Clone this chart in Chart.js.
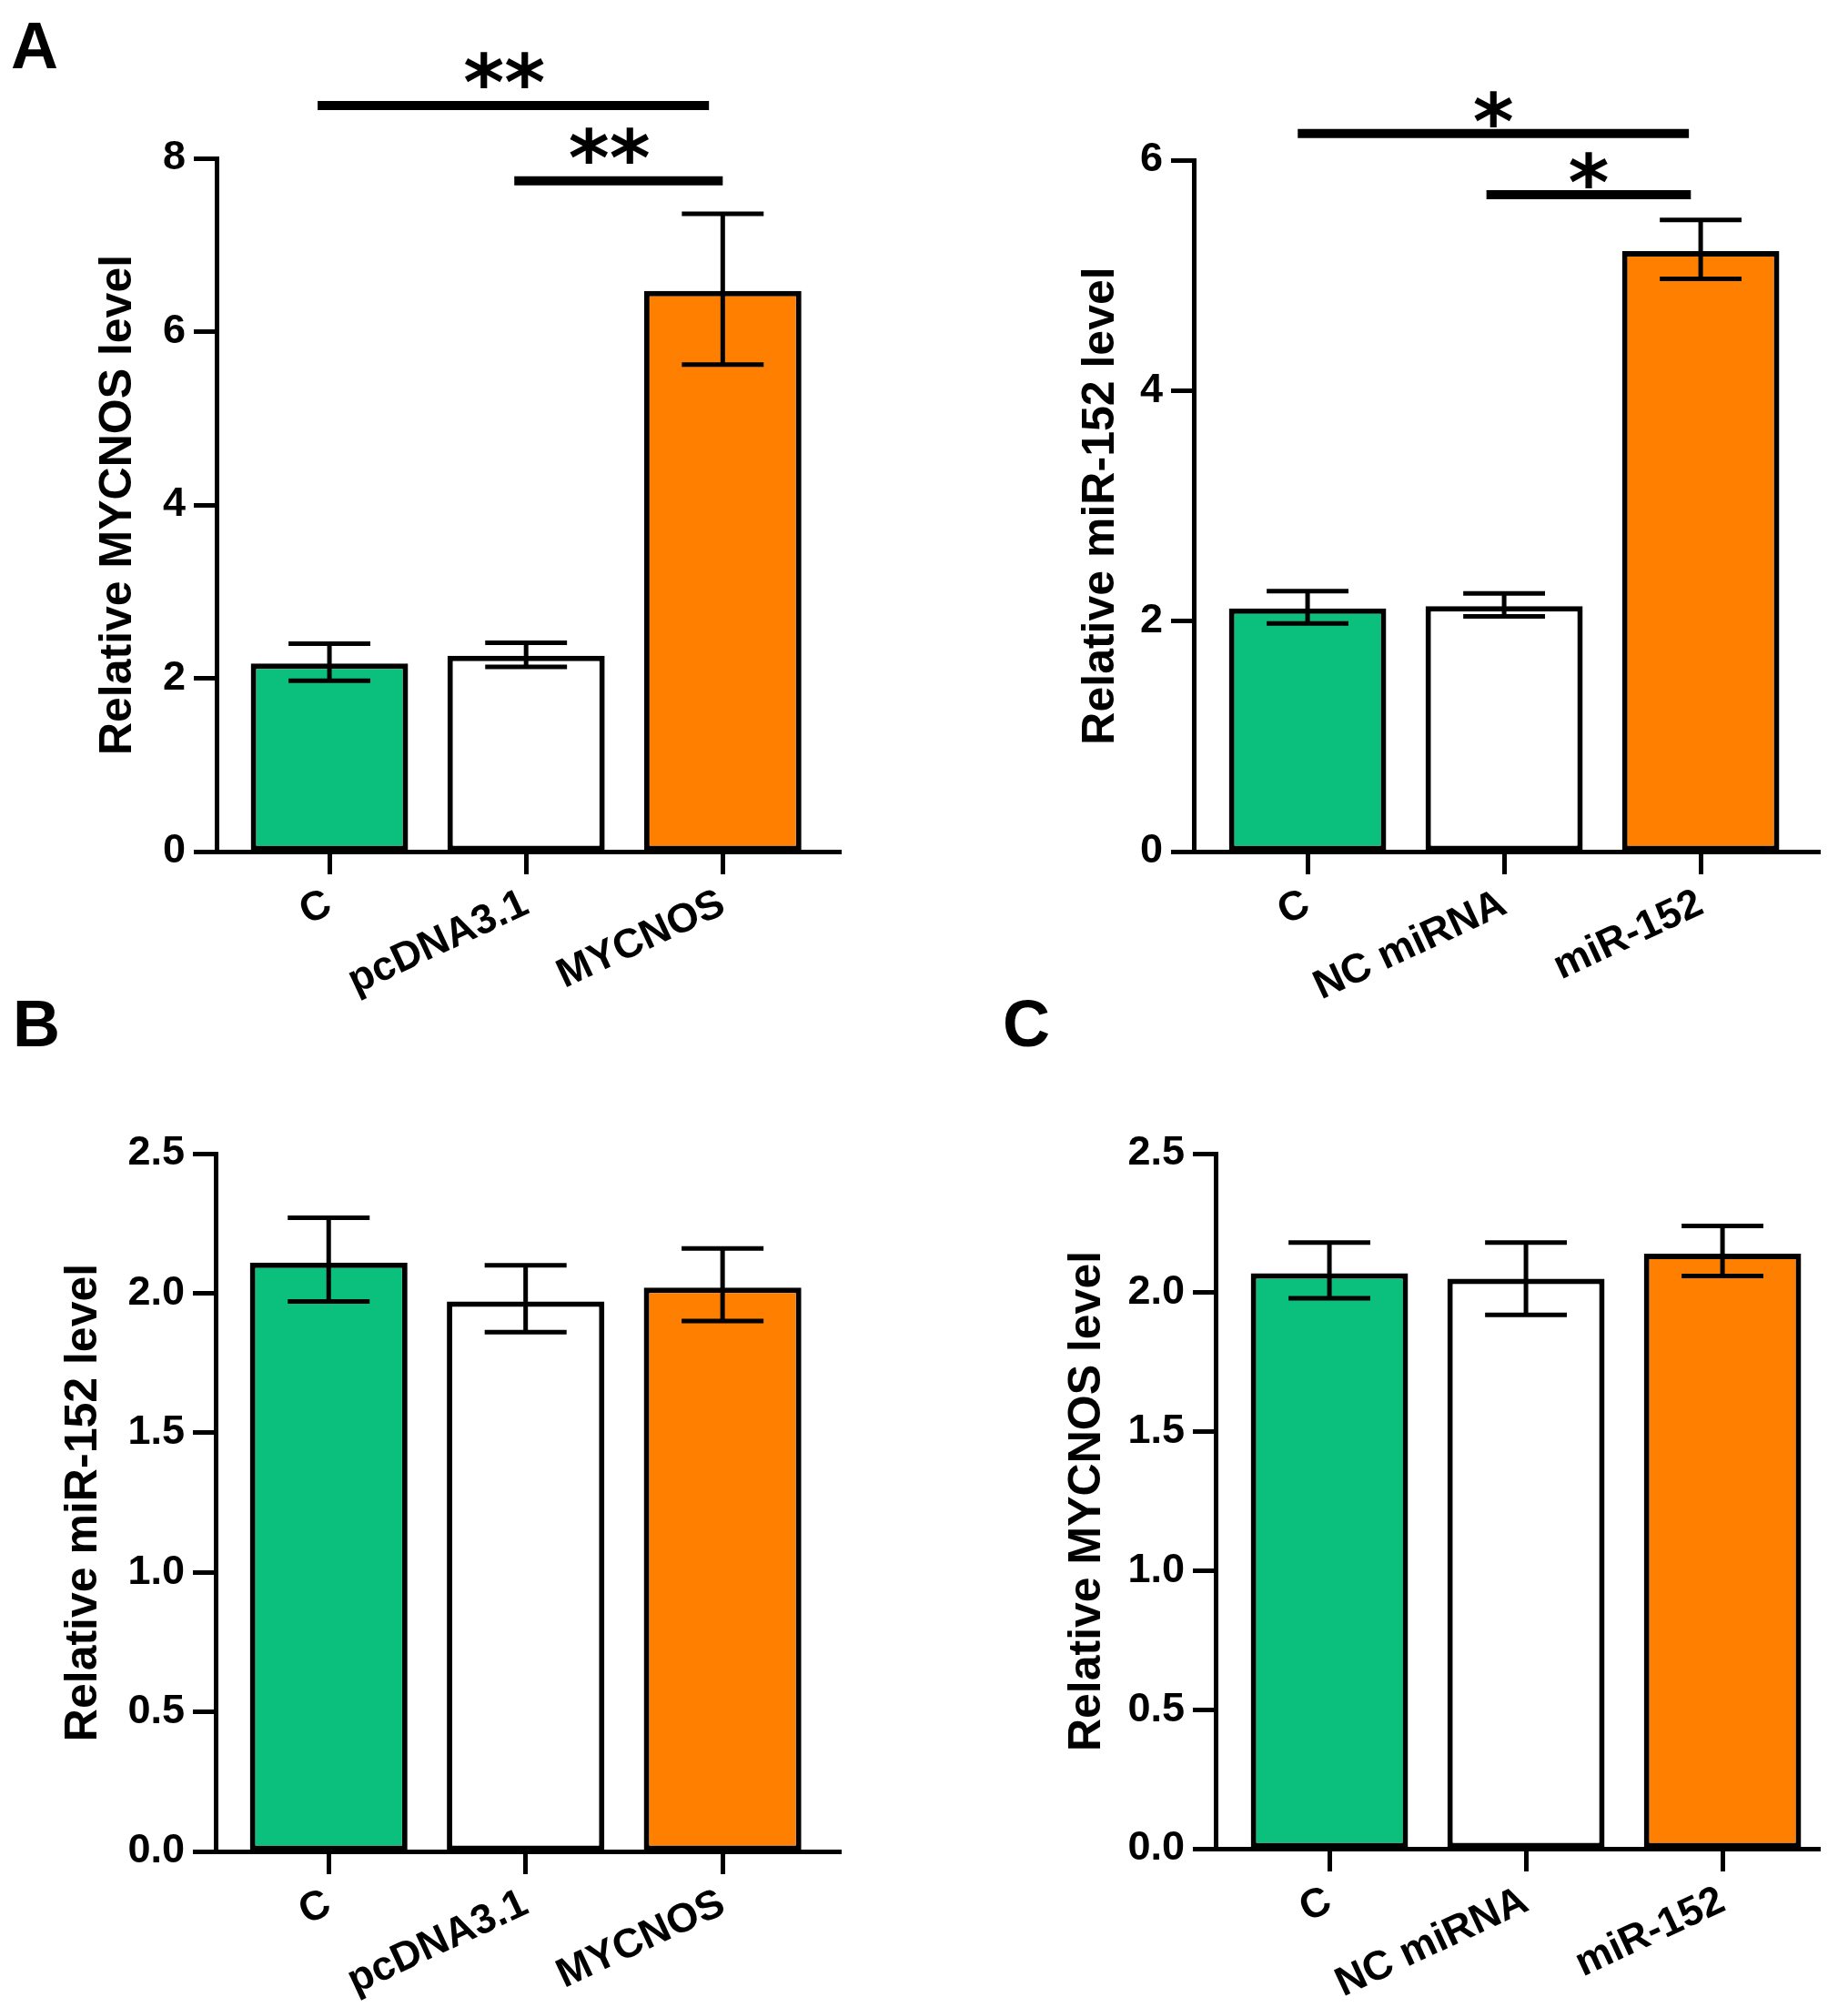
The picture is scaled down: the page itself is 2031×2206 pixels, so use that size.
<!DOCTYPE html>
<html>
<head>
<meta charset="utf-8">
<script src="https://cdn.jsdelivr.net/npm/chart.js@4.4.1/dist/chart.umd.min.js"></script>
<style>
  html, body { margin: 0; padding: 0; background: #fff; }
  #page { position: relative; width: 2031px; height: 2206px; }
  canvas { position: absolute; }
  .tag { position: absolute; font: bold 72px "Liberation Sans", Arial, sans-serif; line-height: 1; color: #000; }
</style>
</head>
<body>
<div id="page">
  <div class="tag" style="left:12px; top:14px;">A</div>
  <div class="tag" style="left:14px; top:1089px;">B</div>
  <div class="tag" style="left:1102px; top:1089px;">C</div>
  <canvas id="pA" width="1015" height="1103" style="left:0; top:0;"></canvas>
  <canvas id="pA2" width="1016" height="1103" style="left:1015px; top:0;"></canvas>
  <canvas id="pB" width="1015" height="1103" style="left:0; top:1103px;"></canvas>
  <canvas id="pC" width="1016" height="1103" style="left:1015px; top:1103px;"></canvas>
</div>
<script>
// Relative expression bar charts (mean with error bars)

const groupsMycnos = ["C", "pcDNA3.1", "MYCNOS"];
const groupsMir = ["C", "NC miRNA", "miR-152"];
const barColors = ["#0bbf7c", "#ffffff", "#ff7f00"];

// A (left): MYCNOS after MYCNOS overexpression
const mycnosMean = [2.17, 2.26, 6.47];
const mycnosLow = [1.97, 2.13, 5.62];
const mycnosHigh = [2.40, 2.41, 7.36];
const mycnosTicks = ["0", "2", "4", "6", "8"];
const mycnosSigFrom = [-0.06, 0.94];
const mycnosSigTo = [1.93, 2.0];
const mycnosSigY = [8.61, 7.74];
const mycnosSigText = ["**", "**"];

// A (right): miR-152 after miR-152 mimic
const mirMean = [2.11, 2.13, 5.21];
const mirLow = [1.98, 2.04, 4.97];
const mirHigh = [2.26, 2.24, 5.48];
const mirTicks = ["0", "2", "4", "6"];
const mirSigFrom = [-0.05, 0.91];
const mirSigTo = [1.94, 1.95];
const mirSigY = [6.23, 5.70];
const mirSigText = ["*", "*"];

// B: miR-152 after MYCNOS overexpression
const bMean = [2.11, 1.97, 2.02];
const bLow = [1.97, 1.86, 1.90];
const bHigh = [2.27, 2.10, 2.16];

// C: MYCNOS after miR-152 mimic
const cMean = [2.07, 2.05, 2.14];
const cLow = [1.98, 1.92, 2.06];
const cHigh = [2.18, 2.18, 2.24];

const smallTicks = ["0.0", "0.5", "1.0", "1.5", "2.0", "2.5"];

const FONT = "'Liberation Sans', Arial, sans-serif";
const STAR_SIZE = 86;

function makePanel(id, o) {
  const canvas = document.getElementById(id);
  const W = canvas.width, H = canvas.height;

  const errorBars = {
    id: "errorBars",
    afterDatasetsDraw(chart) {
      const ctx = chart.ctx;
      const y = chart.scales.y;
      const meta = chart.getDatasetMeta(0);
      ctx.save();
      ctx.strokeStyle = "#000";
      ctx.lineWidth = 5;
      meta.data.forEach(function(bar, i) {
        const yl = y.getPixelForValue(o.low[i]);
        const yh = y.getPixelForValue(o.high[i]);
        const half = bar.width * 0.26;
        ctx.beginPath();
        ctx.moveTo(bar.x, yl); ctx.lineTo(bar.x, yh);
        ctx.moveTo(bar.x - half, yl); ctx.lineTo(bar.x + half, yl);
        ctx.moveTo(bar.x - half, yh); ctx.lineTo(bar.x + half, yh);
        ctx.stroke();
      });
      ctx.restore();
    },
  };

  const sigBars = {
    id: "sigBars",
    afterDraw(chart) {
      if (!o.sigY) return;
      const ctx = chart.ctx;
      const x = chart.scales.x, y = chart.scales.y;
      ctx.save();
      ctx.strokeStyle = "#000";
      ctx.fillStyle = "#000";
      ctx.lineWidth = 10;
      ctx.font = "bold " + STAR_SIZE + "px 'DejaVu Sans'";
      ctx.textAlign = "center";
      ctx.textBaseline = "alphabetic";
      o.sigY.forEach(function(v, i) {
        const x1 = x.getPixelForValue(o.sigFrom[i]);
        const x2 = x.getPixelForValue(o.sigTo[i]);
        const py = y.getPixelForValue(v);
        ctx.beginPath();
        ctx.moveTo(x1, py); ctx.lineTo(x2, py);
        ctx.stroke();
        // star glyph centre sits ~0.56em above the baseline
        ctx.fillText(o.sigText[i], (x1 + x2) / 2 + o.starShift, py - o.starGap + STAR_SIZE * 0.56);
      });
      ctx.restore();
    },
  };

  return new Chart(canvas, {
    type: "bar",
    data: {
      labels: o.labels,
      datasets: [{
        data: o.mean,
        backgroundColor: barColors,
        borderColor: "#000",
        borderWidth: 6,
        borderSkipped: false,
        barPercentage: 0.8,
        categoryPercentage: 1,
      }],
    },
    options: {
      responsive: false,
      devicePixelRatio: 1,
      animation: false,
      layout: { padding: { left: 0, top: o.top, right: W - o.right, bottom: 0 } },
      plugins: { legend: { display: false }, tooltip: { enabled: false } },
      scales: {
        x: {
          offset: true,
          afterBuildTicks: function(s) {
            s._startValue = o.xStart;
            s._valueRange = o.xEnd - o.xStart;
          },
          afterFit: function(s) { s.height = H - o.bottom; },
          border: { display: true, color: "#000", width: 5 },
          grid: {
            display: true, offset: false, drawOnChartArea: false,
            drawTicks: true, tickLength: 25, tickWidth: 5, tickColor: "#000",
          },
          ticks: {
            autoSkip: false, minRotation: 25, maxRotation: 25, padding: 6,
            color: "#000", font: { family: FONT, size: 45, weight: "bold" },
          },
        },
        y: {
          min: 0, max: o.max,
          afterBuildTicks: function(s) {
            s.ticks = o.ticks.map(function(t, i) { return { value: i * o.step }; });
          },
          afterFit: function(s) { s.width = o.left; },
          border: { display: true, color: "#000", width: 5 },
          grid: {
            display: true, drawOnChartArea: false,
            drawTicks: true, tickLength: 25, tickWidth: 5, tickColor: "#000",
          },
          ticks: {
            padding: 9, color: "#000",
            font: { family: FONT, size: 45, weight: "bold" },
            callback: function(v, i) { return o.ticks[i]; },
          },
          title: {
            display: true, text: o.title, color: "#000",
            font: { family: FONT, size: 50, weight: "bold" },
            padding: { top: o.titlePad, bottom: 0 },
          },
        },
      },
    },
    plugins: [errorBars, sigBars],
  });
}

makePanel("pA", {
  labels: groupsMycnos, mean: mycnosMean, low: mycnosLow, high: mycnosHigh,
  ticks: mycnosTicks, step: 2, max: 8, title: "Relative MYCNOS level",
  sigFrom: mycnosSigFrom, sigTo: mycnosSigTo, sigY: mycnosSigY, sigText: mycnosSigText,
  starGap: 43, starShift: -10,
  left: 238, right: 924, top: 174, bottom: 936, xStart: -0.574, xEnd: 2.60, titlePad: 100,
});

makePanel("pA2", {
  labels: groupsMir, mean: mirMean, low: mirLow, high: mirHigh,
  ticks: mirTicks, step: 2, max: 6, title: "Relative miR-152 level",
  sigFrom: mirSigFrom, sigTo: mirSigTo, sigY: mirSigY, sigText: mirSigText,
  starGap: 31, starShift: 0,
  left: 297, right: 985, top: 176, bottom: 936, xStart: -0.579, xEnd: 2.606, titlePad: 165,
});

makePanel("pB", {
  labels: groupsMycnos, mean: bMean, low: bLow, high: bHigh,
  ticks: smallTicks, step: 0.5, max: 2.5, title: "Relative miR-152 level",
  left: 237, right: 924, top: 165, bottom: 932, xStart: -0.574, xEnd: 2.60, titlePad: 62,
});

makePanel("pC", {
  labels: groupsMir, mean: cMean, low: cLow, high: cHigh,
  ticks: smallTicks, step: 0.5, max: 2.5, title: "Relative MYCNOS level",
  left: 321, right: 985, top: 165, bottom: 929, xStart: -0.579, xEnd: 2.495, titlePad: 150,
});
</script>
</body>
</html>
